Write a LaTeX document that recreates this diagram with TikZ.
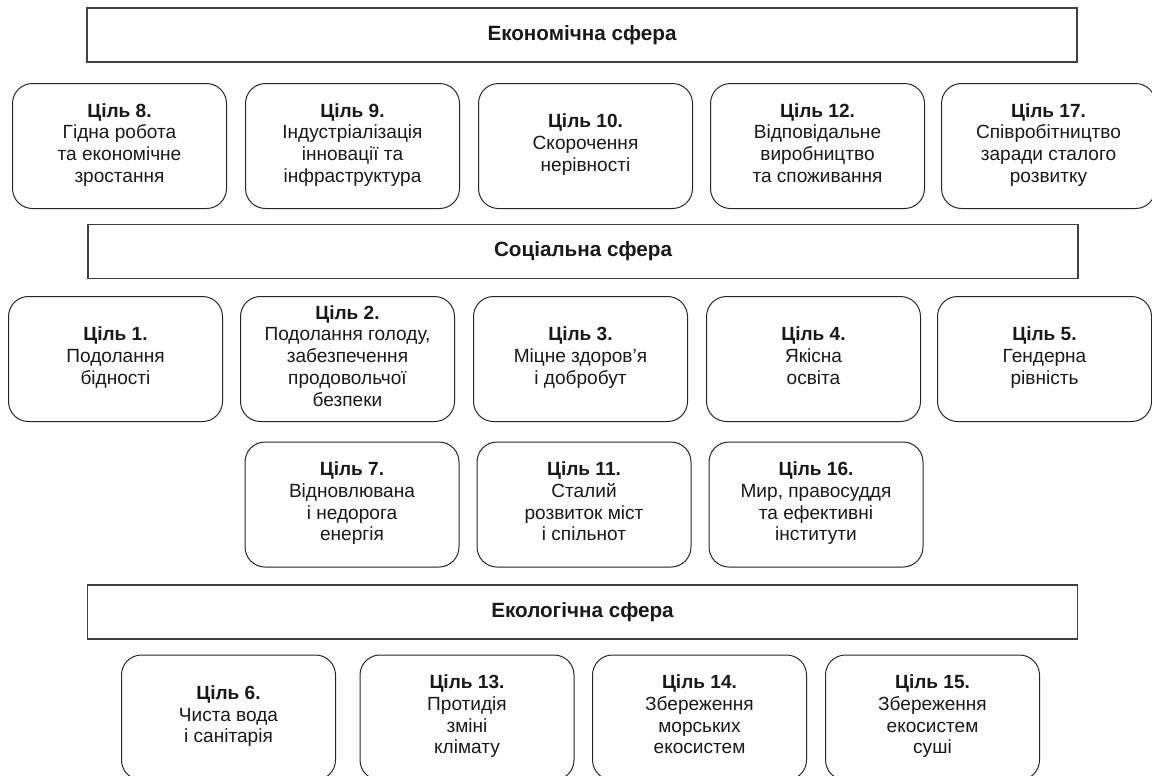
\documentclass[tikz,border=0pt]{standalone}
\usepackage{fontspec}
\setmainfont{Liberation Sans}

\tikzset{every picture/.style={line width=0.75pt}}
\tikzset{
  sphere/.style={draw=black!75, line width=1.1pt, minimum width=742.5pt, minimum height=40.5pt, inner sep=0pt, font=\fontsize{15.5}{18}\selectfont\bfseries, text=black!90},
  goal/.style={draw=black!85, rounded corners=15pt, minimum width=160.5pt, minimum height=93.75pt, inner sep=0pt, align=center, font=\fontsize{14.3}{16.3}\selectfont, text=black!90, execute at begin node=\strut, execute at end node=\strut},
}

\begin{document}
\begin{tikzpicture}[x=0.75pt,y=0.75pt,yscale=-1,xscale=1]
    \useasboundingbox (0,0) rectangle (1152,775);

    % Economic sphere
    \node (econ) [sphere] at (582,35) {Економічна сфера};
    \node (g8)  [goal] at (119.5,146) {\textbf{Ціль 8.}\\Гідна робота\\та економічне\\зростання};
    \node (g9)  [goal] at (352.5,146) {\textbf{Ціль 9.}\\Індустріалізація\\інновації та\\інфраструктура};
    \node (g10) [goal] at (585.5,146) {\textbf{Ціль 10.}\\Скорочення\\нерівності};
    \node (g12) [goal] at (817.5,146) {\textbf{Ціль 12.}\\Відповідальне\\виробництво\\та споживання};
    \node (g17) [goal] at (1048.5,146) {\textbf{Ціль 17.}\\Співробітництво\\заради сталого\\розвитку};

    % Social sphere
    \node (soc) [sphere] at (583,251.5) {Соціальна сфера};
    \node (g1) [goal] at (115.5,359) {\textbf{Ціль 1.}\\Подолання\\бідності};
    \node (g2) [goal] at (347.5,359) {\textbf{Ціль 2.}\\Подолання голоду,\\забезпечення\\продовольчої\\безпеки};
    \node (g3) [goal] at (580.5,359) {\textbf{Ціль 3.}\\Міцне здоров’я\\і добробут};
    \node (g4) [goal] at (813.5,359) {\textbf{Ціль 4.}\\Якісна\\освіта};
    \node (g5) [goal] at (1044.5,359) {\textbf{Ціль 5.}\\Гендерна\\рівність};
    \node (g7)  [goal] at (352,504.5) {\textbf{Ціль 7.}\\Відновлювана\\і недорога\\енергія};
    \node (g11) [goal] at (584,504.5) {\textbf{Ціль 11.}\\Сталий\\розвиток міст\\і спільнот};
    \node (g16) [goal] at (816,504.5) {\textbf{Ціль 16.}\\Мир, правосуддя\\та ефективні\\інститути};

    % Ecological sphere
    \node (eco) [sphere] at (582.5,612) {Екологічна сфера};
    \node (g6)  [goal] at (228.5,717.5) {\textbf{Ціль 6.}\\Чиста вода\\і санітарія};
    \node (g13) [goal] at (467,717.5) {\textbf{Ціль 13.}\\Протидія\\зміні\\клімату};
    \node (g14) [goal] at (699.5,717.5) {\textbf{Ціль 14.}\\Збереження\\морських\\екосистем};
    \node (g15) [goal] at (932.5,717.5) {\textbf{Ціль 15.}\\Збереження\\екосистем\\суші};

\end{tikzpicture}
\end{document}
